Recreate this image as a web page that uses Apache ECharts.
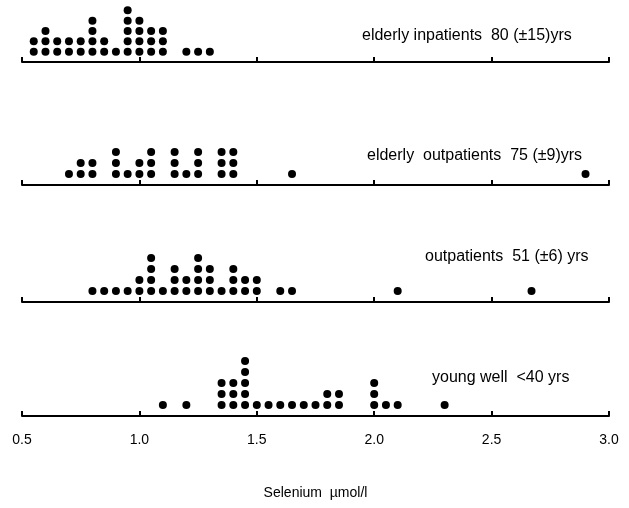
<!DOCTYPE html>
<html>
<head>
    <meta charset="utf-8"/>
    <title>Selenium dot plots</title>
    <style>
        html, body { margin: 0; padding: 0; background: #fff; }
        #container { width: 629px; height: 508px; }
    </style>
</head>
<body>
<div id="container"></div>
<script type="text/javascript" src="https://cdn.jsdelivr.net/npm/echarts/dist/echarts.min.js"></script>
<script type="text/javascript">

    // selenium value (umol/l) of each column and how many dots sit in it
    var inpatientValues = [0.55, 0.60, 0.65, 0.70, 0.75, 0.80, 0.85, 0.90, 0.95, 1.00, 1.05, 1.10, 1.20, 1.25, 1.30];
    var inpatientCounts = [2, 3, 2, 2, 2, 4, 2, 1, 5, 4, 3, 3, 1, 1, 1];

    var elderlyOutValues = [0.70, 0.75, 0.80, 0.90, 0.95, 1.00, 1.05, 1.15, 1.20, 1.25, 1.35, 1.40, 1.65, 2.90];
    var elderlyOutCounts = [1, 2, 2, 3, 1, 2, 3, 3, 1, 3, 3, 3, 1, 1];

    var outpatientValues = [0.80, 0.85, 0.90, 0.95, 1.00, 1.05, 1.10, 1.15, 1.20, 1.25, 1.30, 1.35, 1.40, 1.45, 1.50, 1.60, 1.65, 2.10, 2.67];
    var outpatientCounts = [1, 1, 1, 1, 2, 4, 1, 3, 2, 4, 3, 1, 3, 2, 2, 1, 1, 1, 1];

    var youngValues = [1.10, 1.20, 1.35, 1.40, 1.45, 1.50, 1.55, 1.60, 1.65, 1.70, 1.75, 1.80, 1.85, 2.00, 2.05, 2.10, 2.30];
    var youngCounts = [1, 1, 3, 3, 5, 1, 1, 1, 1, 1, 1, 2, 2, 3, 1, 1, 1];

    var groupLabels = [
        'elderly inpatients  80 (±15)yrs',
        'elderly  outpatients  75 (±9)yrs',
        'outpatients  51 (±6) yrs',
        'young well  <40 yrs'
    ];
    var tickLabels = ['0.5', '1.0', '1.5', '2.0', '2.5', '3.0'];
    var axisTitle = 'Selenium  µmol/l';

    var panels = [
        [inpatientValues, inpatientCounts],
        [elderlyOutValues, elderlyOutCounts],
        [outpatientValues, outpatientCounts],
        [youngValues, youngCounts]
    ];

    // y pixel of each axis line, and where each group label sits
    var axisY = [62, 185, 302, 416];
    var labelPos = [[362, 37], [367, 157], [425, 258], [432, 379]];
    var rowH = 11;
    var rows = 6;
    var font = 'Liberation Sans, Arial, sans-serif';

    // turn columns into stacked dots: [value, level]
    function stackDots(values, counts) {
        var pts = [];
        for (var i = 0; i < values.length; i++) {
            for (var k = 1; k <= counts[i]; k++) {
                pts.push([values[i], k]);
            }
        }
        return pts;
    }

    var grids = [], xAxes = [], yAxes = [], series = [], graphics = [];

    for (var p = 0; p < panels.length; p++) {
        var last = (p === panels.length - 1);
        grids.push({
            left: 22,
            width: 587,
            top: axisY[p] - rowH * rows,
            height: rowH * rows
        });
        xAxes.push({
            gridIndex: p,
            type: 'value',
            min: 0.5,
            max: 3.0,
            interval: 0.5,
            splitLine: { show: false },
            axisLine: { show: true, onZero: false, lineStyle: { color: '#000', width: 2 } },
            axisTick: { show: true, inside: true, length: 5, lineStyle: { color: '#000', width: 2 } },
            axisLabel: {
                show: last,
                margin: 17,
                color: '#000',
                fontSize: 14,
                fontFamily: font,
                formatter: function (v) {
                    return tickLabels[Math.round((v - 0.5) / 0.5)];
                }
            },
            name: last ? axisTitle : '',
            nameLocation: 'middle',
            nameGap: 70,
            nameTextStyle: { color: '#000', fontSize: 14, fontFamily: font }
        });
        yAxes.push({
            gridIndex: p,
            type: 'value',
            min: 0,
            max: rows,
            show: false
        });
        series.push({
            type: 'scatter',
            xAxisIndex: p,
            yAxisIndex: p,
            symbol: 'circle',
            symbolSize: 8,
            itemStyle: { color: '#000', opacity: 1 },
            silent: true,
            data: stackDots(panels[p][0], panels[p][1])
        });
        graphics.push({
            type: 'text',
            left: labelPos[p][0],
            top: labelPos[p][1] - 9,
            style: {
                text: groupLabels[p],
                fill: '#000',
                font: '16px ' + font
            }
        });
    }

    var myChart = echarts.init(document.getElementById('container'));
    var option = {
        animation: false,
        backgroundColor: '#fff',
        grid: grids,
        xAxis: xAxes,
        yAxis: yAxes,
        series: series,
        graphic: graphics
    };
    myChart.setOption(option, true);

</script>
</body>
</html>
